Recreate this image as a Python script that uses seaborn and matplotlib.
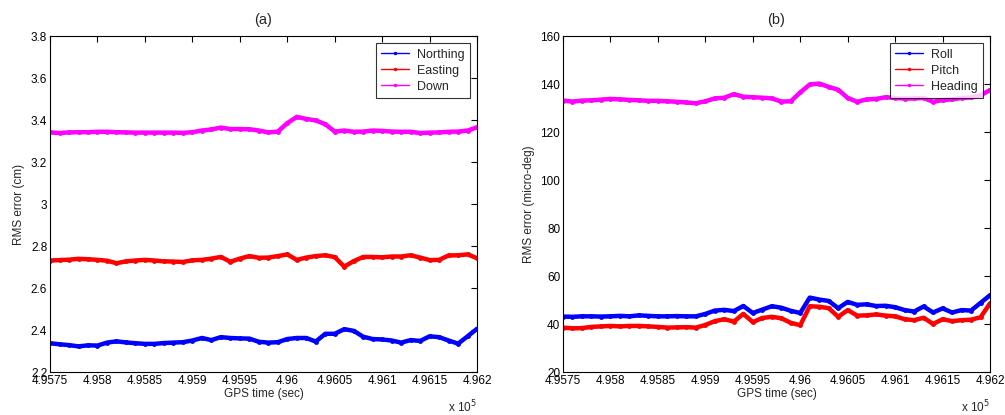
import matplotlib
matplotlib.use("Agg")
import matplotlib.pyplot as plt
import numpy as np
import seaborn as sns

# GPS time samples (sec), every 10 s
gps_time = np.arange(495750, 496201, 10)

# (a) position RMS error (cm)
northing = [2.337, 2.332, 2.328, 2.322, 2.327, 2.326, 2.340, 2.346, 2.341, 2.337,
            2.334, 2.334, 2.338, 2.340, 2.342, 2.350, 2.362, 2.352, 2.366, 2.362,
            2.360, 2.359, 2.344, 2.340, 2.342, 2.357, 2.362, 2.362, 2.345, 2.382,
            2.382, 2.404, 2.396, 2.368, 2.357, 2.355, 2.350, 2.340, 2.352, 2.348,
            2.370, 2.366, 2.350, 2.335, 2.370, 2.406]
easting = [2.731, 2.733, 2.735, 2.739, 2.737, 2.734, 2.730, 2.718, 2.727, 2.731,
           2.734, 2.731, 2.727, 2.726, 2.724, 2.732, 2.734, 2.740, 2.748, 2.725,
           2.740, 2.752, 2.744, 2.745, 2.752, 2.760, 2.734, 2.745, 2.752, 2.756,
           2.747, 2.702, 2.728, 2.748, 2.748, 2.746, 2.750, 2.750, 2.756, 2.745,
           2.733, 2.734, 2.755, 2.756, 2.760, 2.742]
down = [3.341, 3.338, 3.341, 3.342, 3.342, 3.344, 3.344, 3.342, 3.341, 3.340,
        3.340, 3.340, 3.340, 3.340, 3.339, 3.342, 3.350, 3.355, 3.364, 3.357,
        3.357, 3.356, 3.350, 3.341, 3.345, 3.385, 3.415, 3.405, 3.398, 3.380,
        3.345, 3.350, 3.344, 3.345, 3.350, 3.348, 3.345, 3.344, 3.344, 3.338,
        3.340, 3.341, 3.344, 3.345, 3.350, 3.365]

# (b) attitude RMS error (micro-deg)
roll = [43.1, 43.0, 43.2, 43.2, 43.1, 43.2, 43.4, 43.2, 43.6, 43.4,
        43.2, 43.2, 43.3, 43.2, 43.2, 44.2, 45.6, 45.9, 45.4, 47.5,
        44.6, 46.0, 47.4, 46.8, 45.5, 44.6, 51.0, 50.2, 49.6, 46.6,
        49.2, 48.0, 48.2, 47.5, 47.6, 47.0, 45.8, 45.2, 47.3, 44.8,
        46.5, 44.8, 45.8, 45.6, 48.8, 52.0]
pitch = [38.5, 38.2, 38.3, 38.8, 39.0, 39.2, 39.0, 39.2, 39.2, 39.0,
         38.8, 38.5, 38.6, 38.7, 38.5, 39.6, 41.2, 42.0, 41.0, 44.2,
         40.8, 42.5, 43.0, 42.4, 40.5, 39.5, 47.4, 47.2, 46.6, 43.0,
         45.8, 43.5, 43.6, 44.0, 43.5, 43.2, 42.0, 41.6, 42.6, 40.0,
         42.0, 41.2, 41.6, 41.8, 42.8, 48.6]
heading = [133.1, 132.7, 133.1, 133.2, 133.5, 133.8, 133.6, 133.4, 133.2, 133.0,
           133.0, 132.8, 132.6, 132.3, 132.0, 132.8, 134.0, 134.3, 135.8, 134.7,
           134.5, 134.3, 134.0, 132.7, 132.8, 136.5, 139.8, 140.2, 138.8, 137.6,
           134.2, 132.6, 133.6, 133.8, 134.5, 134.2, 133.9, 134.0, 134.2, 132.6,
           133.3, 133.6, 134.2, 134.4, 135.3, 137.5]

x_ticks = [495750, 495800, 495850, 495900, 495950, 496000, 496050, 496100, 496150, 496200]
x_ticklabels = ["4.9575", "4.958", "4.9585", "4.959", "4.9595", "4.96",
                "4.9605", "4.961", "4.9615", "4.962"]
ya_ticks = [2.2, 2.4, 2.6, 2.8, 3.0, 3.2, 3.4, 3.6, 3.8]
ya_ticklabels = ["2.2", "2.4", "2.6", "2.8", "3", "3.2", "3.4", "3.6", "3.8"]
yb_ticks = [20, 40, 60, 80, 100, 120, 140, 160]

sns.set_style("white")
plt.rcParams['font.family'] = ['Liberation Sans', 'DejaVu Sans']

fig = plt.figure(figsize=(10.05, 4.15), dpi=100)
ax1 = fig.add_axes([0.0498, 0.1036, 0.4249, 0.8096])
ax2 = fig.add_axes([0.5602, 0.1036, 0.4249, 0.8096])

line_kw = dict(marker='.', markersize=7, linewidth=3.2, markeredgewidth=0)

panels = [
    (ax1, [northing, easting, down], ["Northing", "Easting", "Down"],
     (2.2, 3.8), ya_ticks, ya_ticklabels, "RMS error (cm)", "(a)"),
    (ax2, [roll, pitch, heading], ["Roll", "Pitch", "Heading"],
     (20, 160), yb_ticks, [str(t) for t in yb_ticks], "RMS error (micro-deg)", "(b)"),
]
colors = ["#0000ff", "#ff0000", "#ff00ff"]

for ax, series, names, ylim, yt, ytl, ylabel, title in panels:
    for vals, name, c in zip(series, names, colors):
        sns.lineplot(x=gps_time, y=vals, color=c, label=name, ax=ax, **line_kw)
    ax.set_xlim(495750, 496200)
    ax.set_ylim(*ylim)
    ax.set_xticks(x_ticks)
    ax.set_xticklabels(x_ticklabels)
    ax.set_yticks(yt)
    ax.set_yticklabels(ytl)
    ax.tick_params(direction='in', length=4, width=0.8, labelsize=8.5, colors='black',
                   top=True, right=True, pad=2)
    for s in ax.spines.values():
        s.set_color('black')
        s.set_linewidth(0.8)
    ax.set_xlabel("GPS time (sec)", fontsize=8.5, labelpad=1)
    ax.set_ylabel(ylabel, fontsize=8.5, labelpad=4)
    ax.set_title(title, fontsize=10.5, pad=9)
    ax.text(1.0, -0.119, r"x 10$^5$", transform=ax.transAxes, ha='right', va='baseline',
            fontsize=8.5)
    leg = ax.legend(loc='upper right', fontsize=9, frameon=True, fancybox=False,
                    borderpad=0.45, labelspacing=0.32, handlelength=2.2,
                    handletextpad=0.65, borderaxespad=0.55)
    leg.get_frame().set_edgecolor('black')
    leg.get_frame().set_linewidth(0.8)
    for h in leg.get_lines():
        h.set_linewidth(1.0)
        h.set_markersize(5)

fig.savefig("out.png", dpi=100)
